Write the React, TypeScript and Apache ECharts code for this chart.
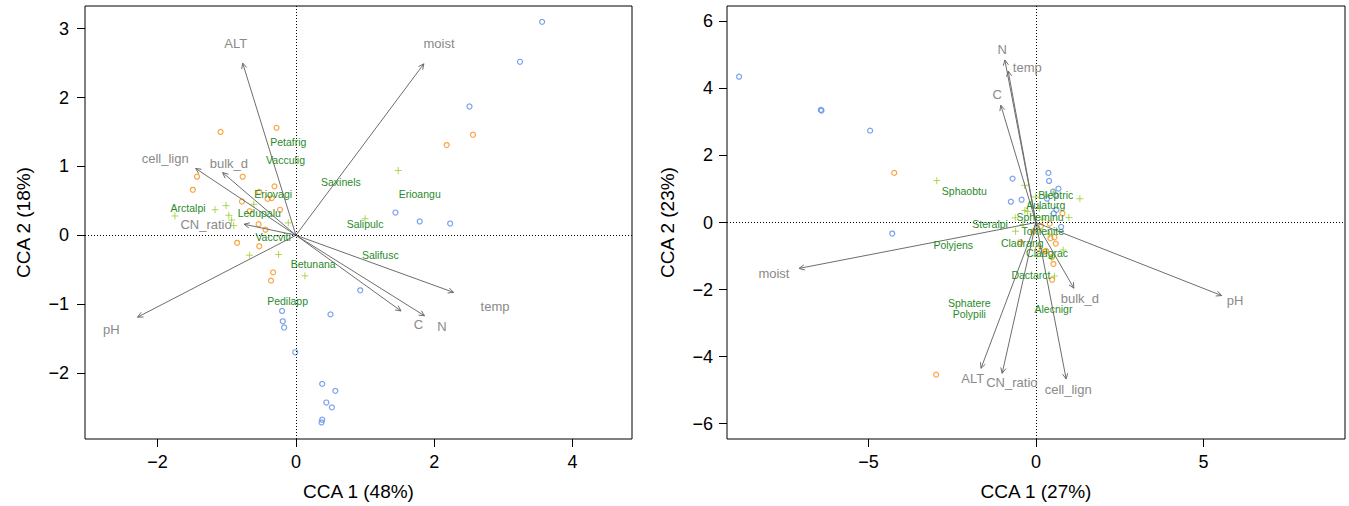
import React, { useEffect, useRef } from "react";
import * as echarts from "echarts";

// ---------- Left panel data (CCA 1 48%, CCA 2 18%) ----------
const leftOrange: number[][] = [
  [-1.09, 1.5], [-0.28, 1.56], [-1.43, 0.85], [-0.77, 0.85], [-1.49, 0.66],
  [-0.31, 0.71], [-0.53, 0.63], [-0.41, 0.53], [-0.35, 0.54], [-0.78, 0.49],
  [-0.23, 0.37], [-0.67, 0.35], [-0.54, 0.16], [-0.44, 0.08], [-0.85, -0.11],
  [-0.53, -0.16], [-0.33, -0.54], [-0.36, -0.66], [2.56, 1.46], [2.18, 1.31],
];
const leftBlue: number[][] = [
  [3.56, 3.1], [3.24, 2.52], [2.51, 1.87], [1.44, 0.33], [1.79, 0.2],
  [2.23, 0.17], [0.93, -0.8], [-0.2, -1.1], [-0.19, -1.25], [-0.17, -1.34],
  [-0.01, -1.7], [0.5, -1.15], [0.38, -2.16], [0.57, -2.26], [0.44, -2.43],
  [0.52, -2.5], [0.38, -2.68], [0.37, -2.72],
];
const leftSpeciesPts: number[][] = [
  [-1.75, 0.28], [-1.17, 0.37], [-1.01, 0.43], [-0.97, 0.29], [-0.93, 0.22],
  [-0.9, 0.14], [-0.61, 0.45], [-0.11, 0.18], [-0.67, -0.29], [-0.25, -0.28],
  [0.13, -0.59], [1.48, 0.94], [1.0, 0.24],
];
const leftSpeciesNames = [
  "Petafrig", "Vacculig", "Saxinels", "Eriovagi", "Erioangu", "Arctalpi",
  "Ledupalu", "Salipulc", "Vaccviti", "Salifusc", "Betunana", "Pedilapp",
];
const leftSpeciesPos: number[][] = [
  [-0.11, 1.35], [-0.15, 1.09], [0.65, 0.77], [-0.33, 0.6], [1.79, 0.6],
  [-1.56, 0.4], [-0.53, 0.32], [1.0, 0.16], [-0.33, -0.03], [1.22, -0.28],
  [0.25, -0.42], [-0.12, -0.96],
];
const leftEnvNames = ["ALT", "moist", "cell_lign", "bulk_d", "CN_ratio", "pH", "temp", "C", "N"];
const leftEnvTips: number[][] = [
  [-0.77, 2.5], [1.85, 2.49], [-1.45, 0.97], [-1.06, 0.91], [-0.75, 0.16],
  [-2.29, -1.19], [2.28, -0.83], [1.52, -1.1], [1.86, -1.17],
];
const leftEnvLabelPos: number[][] = [
  [-0.87, 2.79], [2.07, 2.79], [-1.89, 1.12], [-0.97, 1.04], [-1.3, 0.16],
  [-2.67, -1.37], [2.88, -1.04], [1.77, -1.3], [2.11, -1.32],
];
const leftXTicks = [-2, 0, 2, 4];
const leftYTicks = [-2, -1, 0, 1, 2, 3];

// ---------- Right panel data (CCA 1 27%, CCA 2 23%) ----------
const rightBlue: number[][] = [
  [-8.86, 4.35], [-6.4, 3.34], [-6.42, 3.36], [-4.95, 2.74], [-4.29, -0.33],
  [-0.7, 1.31], [-0.75, 0.62], [-0.43, 0.68], [0.37, 1.48], [0.39, 1.24],
  [0.67, 1.01], [0.51, 0.92], [0.58, 0.82], [0.33, 0.71], [0.61, 0.38],
  [0.53, 0.27], [0.75, -0.13],
];
const rightOrange: number[][] = [
  [-4.23, 1.48], [-2.98, -4.54], [0.79, 0.27], [0.41, -0.03], [-0.08, -0.27],
  [0.43, -0.47], [0.55, -0.44], [0.59, -0.63], [-0.47, -0.59], [0.06, -0.77],
  [0.25, -0.87], [0.3, -0.85], [0.48, -1.03], [0.52, -1.24], [0.48, -1.71],
  [0.15, -0.1],
];
const rightSpeciesPts: number[][] = [
  [-2.96, 1.25], [-0.62, 0.14], [-0.61, -0.26], [-0.34, 1.11], [1.31, 0.71],
  [0.98, 0.15], [-0.33, 0.36], [-0.25, 0.33], [0.02, -1.0], [0.81, -0.82],
  [0.55, -1.6], [0.29, 0.83], [0.1, 0.42], [-0.39, -0.06], [-0.01, 0.76],
  [0.52, 0.91], [0.47, -1.05], [0.2, 0.1], [0.4, -0.35], [0.1, -0.2],
];
const rightSpeciesNames = [
  "Sphaobtu", "Bleptric", "Aulaturg", "Spheminu", "Steralpi", "Tomenite",
  "Polyjens", "Cladrang", "Cladgrac", "Dactarct", "Sphatere", "Polypili", "Alecnigr",
];
const rightSpeciesPos: number[][] = [
  [-2.14, 0.93], [0.59, 0.83], [0.29, 0.53], [0.12, 0.15], [-1.37, -0.04],
  [0.2, -0.24], [-2.47, -0.68], [-0.41, -0.6], [0.33, -0.9], [-0.15, -1.57],
  [-1.99, -2.41], [-1.99, -2.74], [0.52, -2.57],
];
const rightEnvNames = ["N", "temp", "C", "moist", "ALT", "CN_ratio", "cell_lign", "bulk_d", "pH"];
const rightEnvTips: number[][] = [
  [-0.93, 4.85], [-0.83, 4.52], [-1.05, 3.5], [-7.07, -1.37], [-1.64, -4.35],
  [-1.01, -4.5], [0.9, -4.67], [1.13, -1.96], [5.54, -2.18],
];
const rightEnvLabelPos: number[][] = [
  [-1.01, 5.17], [-0.26, 4.62], [-1.16, 3.82], [-7.82, -1.52], [-1.89, -4.65],
  [-0.72, -4.76], [0.96, -4.97], [1.31, -2.28], [5.94, -2.32],
];
const rightXTicks = [-5, 0, 5];
const rightYTicks = [-6, -4, -2, 0, 2, 4, 6];

const FONT = "'Liberation Sans', Arial, Helvetica, sans-serif";
const ORANGE = "#f98f14";
const BLUE = "#5a8ae8";
const LIGHTGREEN = "#9acd32";
const SPECIES = "#2a8a2a";
const ENVTXT = "#8a8a8a";
const ARROW = "#6e6e6e";
const PLUS = "path://M0,5L10,5M5,0L5,10";

const fmt = (v: number) => String(v).replace("-", "\u2212");

function circleSeries(idx: number, data: number[][], color: string) {
  return {
    type: "scatter",
    xAxisIndex: idx,
    yAxisIndex: idx,
    data,
    symbol: "circle",
    symbolSize: 5,
    itemStyle: { color: "rgba(0,0,0,0)", borderColor: color, borderWidth: 1.2 },
    silent: true,
    z: 3,
  };
}

function plusSeries(idx: number, data: number[][]) {
  return {
    type: "scatter",
    xAxisIndex: idx,
    yAxisIndex: idx,
    data,
    symbol: PLUS,
    symbolSize: 7,
    itemStyle: { color: "rgba(0,0,0,0)", borderColor: LIGHTGREEN, borderWidth: 1 },
    silent: true,
    z: 3,
  };
}

function textSeries(idx: number, names: string[], pos: number[][], color: string, size: number) {
  return {
    type: "custom",
    xAxisIndex: idx,
    yAxisIndex: idx,
    data: pos.map((p, i) => [p[0], p[1], i]),
    silent: true,
    z: 6,
    renderItem: (_params: any, api: any) => {
      const p = api.coord([api.value(0), api.value(1)]);
      return {
        type: "text",
        x: p[0],
        y: p[1],
        style: {
          text: names[api.value(2)],
          fill: color,
          fontSize: size,
          fontFamily: FONT,
          align: "center",
          verticalAlign: "middle",
        },
      };
    },
  };
}

function arrowSeries(idx: number, tips: number[][]) {
  return {
    type: "custom",
    xAxisIndex: idx,
    yAxisIndex: idx,
    data: tips,
    silent: true,
    z: 4,
    renderItem: (_params: any, api: any) => {
      const o = api.coord([0, 0]);
      const t = api.coord([api.value(0), api.value(1)]);
      const ang = Math.atan2(t[1] - o[1], t[0] - o[0]);
      const L = 6;
      const a = Math.PI / 7;
      const h1 = [t[0] - L * Math.cos(ang - a), t[1] - L * Math.sin(ang - a)];
      const h2 = [t[0] - L * Math.cos(ang + a), t[1] - L * Math.sin(ang + a)];
      return {
        type: "group",
        children: [
          {
            type: "line",
            shape: { x1: o[0], y1: o[1], x2: t[0], y2: t[1] },
            style: { stroke: ARROW, lineWidth: 1 },
          },
          {
            type: "polyline",
            shape: { points: [h1, t, h2] },
            style: { stroke: ARROW, fill: "none", lineWidth: 1 },
          },
        ],
      };
    },
  };
}

function zeroLines(idx: number) {
  return {
    type: "scatter",
    xAxisIndex: idx,
    yAxisIndex: idx,
    data: [],
    silent: true,
    markLine: {
      silent: true,
      symbol: "none",
      animation: false,
      label: { show: false },
      lineStyle: { color: "#000", width: 1, type: [1, 2] },
      data: [{ xAxis: 0 }, { yAxis: 0 }],
    },
  };
}

function xAxis(idx: number, min: number, max: number, ticks: number[], name: string) {
  return {
    gridIndex: idx,
    type: "value",
    min,
    max,
    name,
    nameLocation: "middle",
    nameGap: 43,
    nameTextStyle: { fontSize: 19, color: "#000", fontFamily: FONT },
    axisLine: { show: false, onZero: false },
    splitLine: { show: false },
    axisTick: { show: true, length: 8, lineStyle: { color: "#000" }, customValues: ticks },
    axisLabel: {
      customValues: ticks,
      formatter: fmt,
      fontSize: 18,
      color: "#000",
      fontFamily: FONT,
      margin: 14,
    },
  };
}

function yAxis(idx: number, min: number, max: number, ticks: number[], name: string, margin: number, gap: number) {
  return {
    gridIndex: idx,
    type: "value",
    min,
    max,
    name,
    nameLocation: "middle",
    nameGap: gap,
    nameRotate: 90,
    nameTextStyle: { fontSize: 19, color: "#000", fontFamily: FONT },
    axisLine: { show: false, onZero: false },
    splitLine: { show: false },
    axisTick: { show: true, length: 8, lineStyle: { color: "#000" }, customValues: ticks },
    axisLabel: {
      customValues: ticks,
      formatter: fmt,
      fontSize: 18,
      color: "#000",
      fontFamily: FONT,
      margin,
    },
  };
}

export default function App() {
  const ref = useRef<HTMLDivElement>(null);
  useEffect(() => {
    if (!ref.current) return;
    const chart = echarts.init(ref.current, null, { renderer: "svg" });
    chart.setOption({
      animation: false,
      backgroundColor: "#fff",
      textStyle: { fontFamily: FONT },
      grid: [
        { left: 85, top: 6, width: 547, height: 434, show: true, borderColor: "#000", borderWidth: 1, backgroundColor: "transparent" },
        { left: 727, top: 6, width: 618, height: 434, show: true, borderColor: "#000", borderWidth: 1, backgroundColor: "transparent" },
      ],
      xAxis: [
        xAxis(0, -3.05, 4.86, leftXTicks, "CCA 1 (48%)"),
        xAxis(1, -9.22, 9.22, rightXTicks, "CCA 1 (27%)"),
      ],
      yAxis: [
        yAxis(0, -2.96, 3.33, leftYTicks, "CCA 2 (18%)", 16, 52),
        yAxis(1, -6.46, 6.46, rightYTicks, "CCA 2 (23%)", 14, 50),
      ],
      series: [
        zeroLines(0),
        zeroLines(1),
        arrowSeries(0, leftEnvTips),
        arrowSeries(1, rightEnvTips),
        circleSeries(0, leftOrange, ORANGE),
        circleSeries(0, leftBlue, BLUE),
        plusSeries(0, leftSpeciesPts),
        circleSeries(1, rightOrange, ORANGE),
        circleSeries(1, rightBlue, BLUE),
        plusSeries(1, rightSpeciesPts),
        textSeries(0, leftSpeciesNames, leftSpeciesPos, SPECIES, 10.5),
        textSeries(1, rightSpeciesNames, rightSpeciesPos, SPECIES, 10.5),
        textSeries(0, leftEnvNames, leftEnvLabelPos, ENVTXT, 13),
        textSeries(1, rightEnvNames, rightEnvLabelPos, ENVTXT, 13),
      ],
    });
    return () => chart.dispose();
  }, []);
  return (
    <div
      ref={ref}
      style={{ position: "absolute", left: 0, top: 0, width: 1349, height: 506 }}
    />
  );
}
